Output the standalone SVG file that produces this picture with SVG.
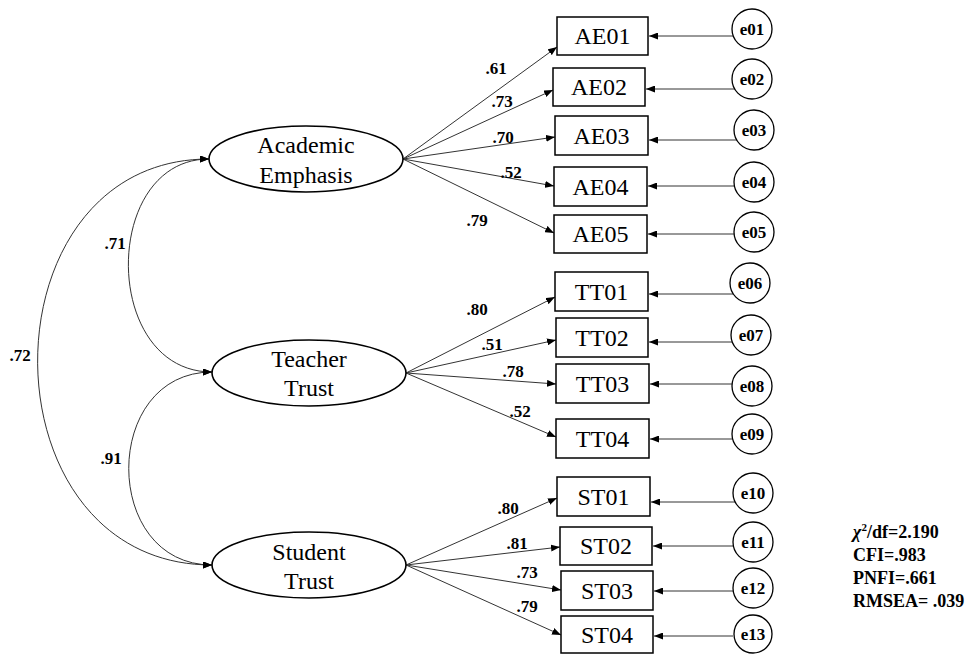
<svg xmlns="http://www.w3.org/2000/svg" width="974" height="654" viewBox="0 0 974 654">
<style>
text{font-family:"Liberation Serif","Times New Roman",serif;fill:#000}
.box{fill:#fff;stroke:#000;stroke-width:1.5}
.lat{fill:#fff;stroke:#000;stroke-width:1.6}
.err{fill:#fff;stroke:#000;stroke-width:1.3}
.bt{font-size:24px;text-anchor:middle}
.lt{font-size:24px;text-anchor:middle}
.et{font-size:17px;font-weight:bold;text-anchor:middle}
.num{font-size:17px;font-weight:bold;text-anchor:middle}
.fit{font-size:18px;font-weight:bold}
.ln{fill:none;stroke:#333;stroke-width:1}
.ar{marker-end:url(#ah)}
.cv{fill:none;stroke:#333;stroke-width:1;marker-start:url(#ah);marker-end:url(#ah)}
</style>
<defs>
<marker id="ah" viewBox="0 0 9 7" refX="9" refY="3.5" markerWidth="9" markerHeight="7" markerUnits="userSpaceOnUse" orient="auto-start-reverse">
<path d="M0,0 L9,3.5 L0,7 z" fill="#000"/>
</marker>
</defs>
<rect width="974" height="654" fill="#fff"/>
<g id="connectors">
<path class="cv" d="M209,159 C101,159 101,372 212,372"/>
<path class="cv" d="M212,372 C101,372 101,565 212,565"/>
<path class="cv" d="M209,159 C-20,159 -20,565 212,565"/>
<path class="ln ar" d="M403,159 L557,47"/>
<path class="ln ar" d="M403,159 L553,90"/>
<path class="ln ar" d="M403,159 L555,137"/>
<path class="ln ar" d="M403,159 L554,186"/>
<path class="ln ar" d="M403,159 L554,233"/>
<path class="ln ar" d="M406,373 L555,297"/>
<path class="ln ar" d="M406,373 L556,340"/>
<path class="ln ar" d="M406,373 L556,384"/>
<path class="ln ar" d="M406,373 L556,437"/>
<path class="ln ar" d="M406,565 L557,498"/>
<path class="ln ar" d="M406,565 L560,547"/>
<path class="ln ar" d="M406,565 L561,590"/>
<path class="ln ar" d="M406,565 L561,635"/>
<path class="ln ar" d="M733.3,36 L649,36"/>
<path class="ln ar" d="M734.7,89 L646,89"/>
<path class="ln ar" d="M736.7,140 L649,140"/>
<path class="ln ar" d="M734.4,186 L648,186"/>
<path class="ln ar" d="M734.1,234 L648,234"/>
<path class="ln ar" d="M733.3,294 L649,294"/>
<path class="ln ar" d="M732.3,342 L649,342"/>
<path class="ln ar" d="M732.1,384 L650,384"/>
<path class="ln ar" d="M732.6,439 L650,439"/>
<path class="ln ar" d="M735.1,502 L651,502"/>
<path class="ln ar" d="M733.4,546 L653,546"/>
<path class="ln ar" d="M733.2,591 L654,591"/>
<path class="ln ar" d="M733,636 L654,636"/>
</g>
<g id="labels">
<text class="num" x="115" y="249">.71</text>
<text class="num" x="20" y="361">.72</text>
<text class="num" x="111" y="464">.91</text>
<text class="num" x="496" y="74">.61</text>
<text class="num" x="502" y="107">.73</text>
<text class="num" x="503" y="143">.70</text>
<text class="num" x="511" y="178">.52</text>
<text class="num" x="477" y="226">.79</text>
<text class="num" x="477" y="315">.80</text>
<text class="num" x="492" y="350">.51</text>
<text class="num" x="513" y="377">.78</text>
<text class="num" x="520" y="417">.52</text>
<text class="num" x="508" y="514">.80</text>
<text class="num" x="517" y="549">.81</text>
<text class="num" x="527" y="578">.73</text>
<text class="num" x="527" y="612">.79</text>
</g>
<g id="AcademicEmphasis"><ellipse class="lat" cx="306" cy="159" rx="97" ry="33"/><text class="lt" x="306" y="153">Academic</text><text class="lt" x="306" y="183">Emphasis</text></g>
<g id="TeacherTrust"><ellipse class="lat" cx="309" cy="373" rx="97" ry="33"/><text class="lt" x="309" y="367">Teacher</text><text class="lt" x="309" y="396">Trust</text></g>
<g id="StudentTrust"><ellipse class="lat" cx="309" cy="565" rx="97" ry="33"/><text class="lt" x="309" y="560">Student</text><text class="lt" x="309" y="589">Trust</text></g>
<g id="AE01"><rect class="box" x="557" y="17" width="91" height="38"/><text class="bt" x="602.5" y="44">AE01</text></g>
<g id="AE02"><rect class="box" x="553" y="68" width="92" height="38"/><text class="bt" x="599" y="95">AE02</text></g>
<g id="AE03"><rect class="box" x="555" y="116" width="93" height="39"/><text class="bt" x="601.5" y="143.5">AE03</text></g>
<g id="AE04"><rect class="box" x="554" y="167" width="93" height="39"/><text class="bt" x="600.5" y="194.5">AE04</text></g>
<g id="AE05"><rect class="box" x="554" y="215" width="93" height="38"/><text class="bt" x="600.5" y="242">AE05</text></g>
<g id="TT01"><rect class="box" x="555" y="272" width="93" height="39"/><text class="bt" x="601.5" y="299.5">TT01</text></g>
<g id="TT02"><rect class="box" x="556" y="318" width="92" height="39"/><text class="bt" x="602" y="345.5">TT02</text></g>
<g id="TT03"><rect class="box" x="556" y="364" width="93" height="39"/><text class="bt" x="602.5" y="391.5">TT03</text></g>
<g id="TT04"><rect class="box" x="556" y="419" width="93" height="39"/><text class="bt" x="602.5" y="446.5">TT04</text></g>
<g id="ST01"><rect class="box" x="557" y="477" width="93" height="39"/><text class="bt" x="603.5" y="504.5">ST01</text></g>
<g id="ST02"><rect class="box" x="560" y="527" width="92" height="38"/><text class="bt" x="606" y="554">ST02</text></g>
<g id="ST03"><rect class="box" x="561" y="571" width="92" height="39"/><text class="bt" x="607" y="598.5">ST03</text></g>
<g id="ST04"><rect class="box" x="561" y="616" width="92" height="37"/><text class="bt" x="607" y="642.5">ST04</text></g>
<g id="e01"><circle class="err" cx="752" cy="29" r="20"/><text class="et" x="752" y="35">e01</text></g>
<g id="e02"><circle class="err" cx="752" cy="79" r="20"/><text class="et" x="752" y="85">e02</text></g>
<g id="e03"><circle class="err" cx="754" cy="130" r="20"/><text class="et" x="754" y="136">e03</text></g>
<g id="e04"><circle class="err" cx="754" cy="182" r="20"/><text class="et" x="754" y="188">e04</text></g>
<g id="e05"><circle class="err" cx="754" cy="232" r="20"/><text class="et" x="754" y="238">e05</text></g>
<g id="e06"><circle class="err" cx="750" cy="283" r="20"/><text class="et" x="750" y="289">e06</text></g>
<g id="e07"><circle class="err" cx="751" cy="335" r="20"/><text class="et" x="751" y="341">e07</text></g>
<g id="e08"><circle class="err" cx="752" cy="386" r="20"/><text class="et" x="752" y="392">e08</text></g>
<g id="e09"><circle class="err" cx="752" cy="434" r="20"/><text class="et" x="752" y="440">e09</text></g>
<g id="e10"><circle class="err" cx="753" cy="493" r="20"/><text class="et" x="753" y="499">e10</text></g>
<g id="e11"><circle class="err" cx="753" cy="542" r="20"/><text class="et" x="753" y="548">e11</text></g>
<g id="e12"><circle class="err" cx="753" cy="588" r="20"/><text class="et" x="753" y="594">e12</text></g>
<g id="e13"><circle class="err" cx="753" cy="634" r="19"/><text class="et" x="753" y="640">e13</text></g>
<g id="fit">
<text class="fit" x="853" y="538"><tspan font-style="italic">χ</tspan><tspan font-size="11" dy="-7">2</tspan><tspan dy="7">/df=2.190</tspan></text>
<text class="fit" x="853" y="561">CFI=.983</text>
<text class="fit" x="853" y="584">PNFI=.661</text>
<text class="fit" x="853" y="607">RMSEA= .039</text>
</g>
</svg>
